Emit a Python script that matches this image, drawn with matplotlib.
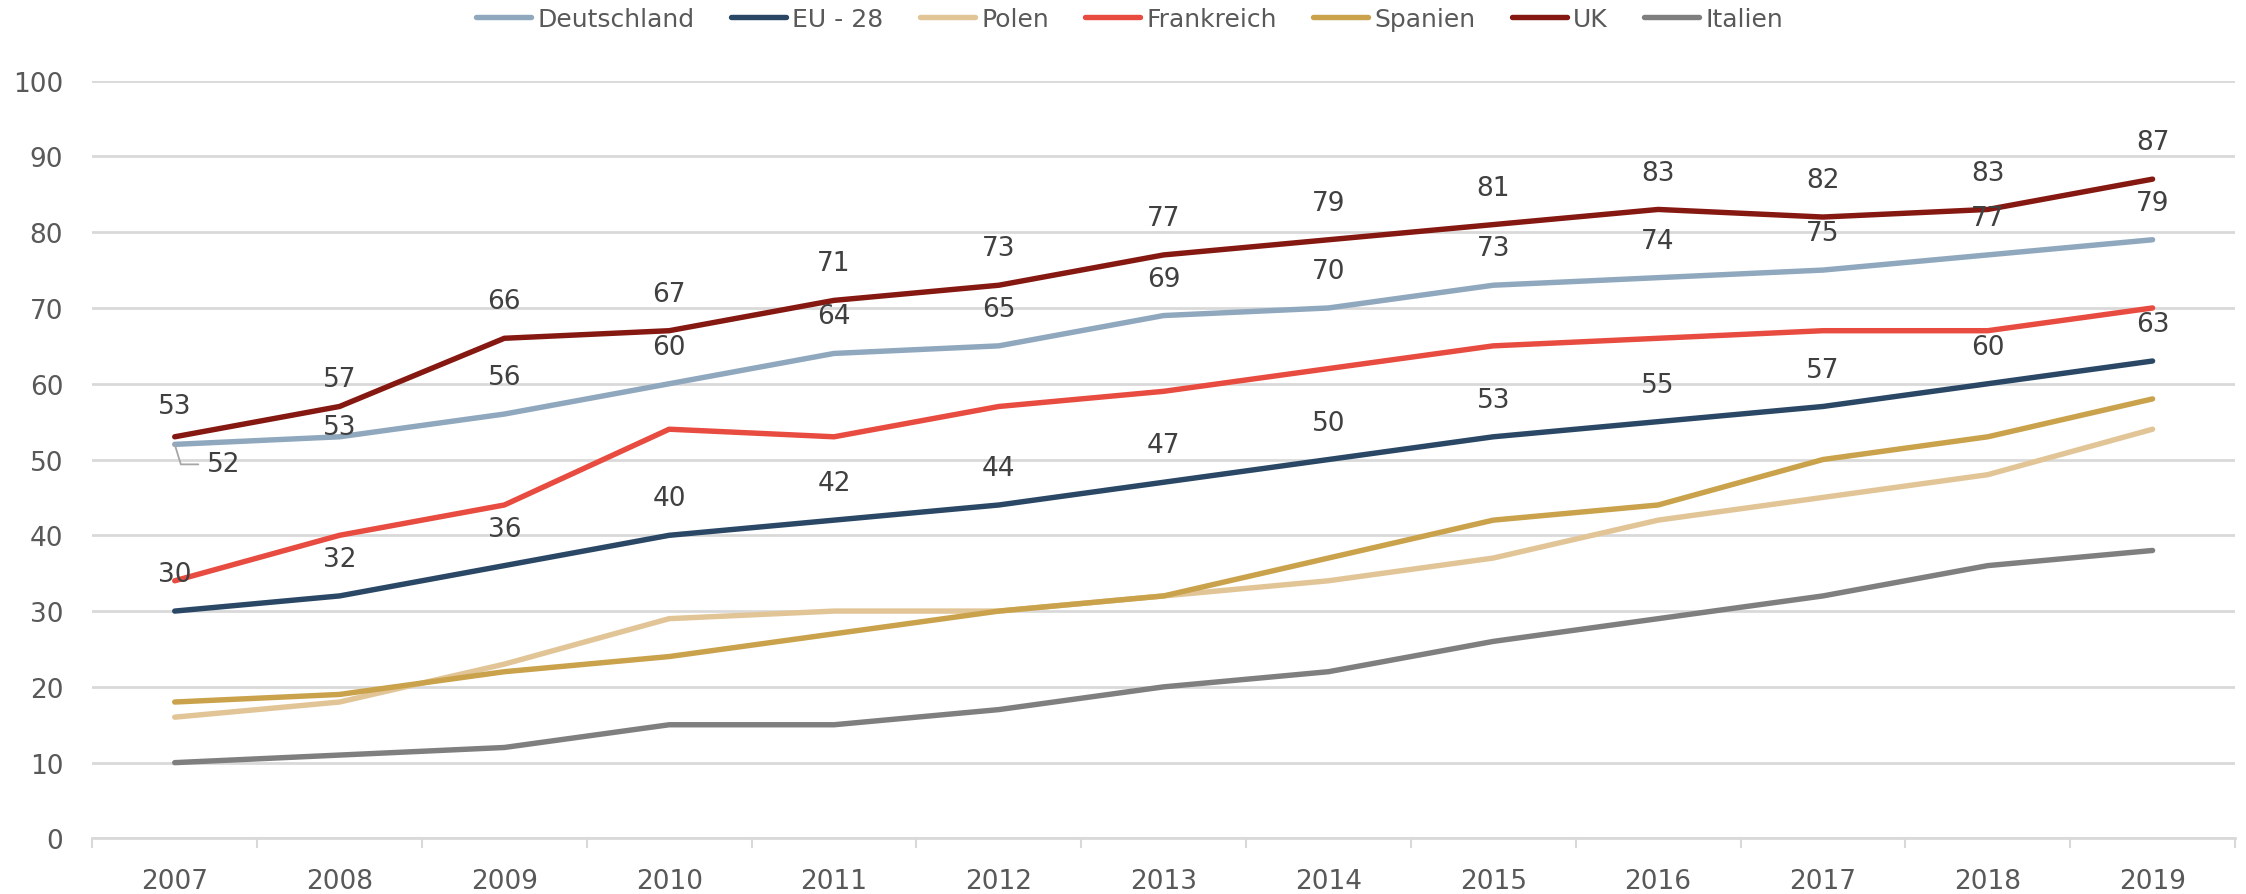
import matplotlib
matplotlib.use("Agg")
import matplotlib.pyplot as plt
import numpy as np

years = [str(y) for y in range(2007, 2020)]

deutschland = [52, 53, 56, 60, 64, 65, 69, 70, 73, 74, 75, 77, 79]
eu28 = [30, 32, 36, 40, 42, 44, 47, 50, 53, 55, 57, 60, 63]
polen = [16, 18, 23, 29, 30, 30, 32, 34, 37, 42, 45, 48, 54]
frankreich = [34, 40, 44, 54, 53, 57, 59, 62, 65, 66, 67, 67, 70]
spanien = [18, 19, 22, 24, 27, 30, 32, 37, 42, 44, 50, 53, 58]
uk = [53, 57, 66, 67, 71, 73, 77, 79, 81, 83, 82, 83, 87]
italien = [10, 11, 12, 15, 15, 17, 20, 22, 26, 29, 32, 36, 38]

series = [
    ("Deutschland", deutschland, "#8FA8BE"),
    ("EU - 28", eu28, "#2A4865"),
    ("Polen", polen, "#E2C597"),
    ("Frankreich", frankreich, "#E84B3F"),
    ("Spanien", spanien, "#C9A24B"),
    ("UK", uk, "#861812"),
    ("Italien", italien, "#7F7F7F"),
]
labelled = {"Deutschland", "EU - 28", "UK"}

GRID = "#D9D9D9"
TICK_TEXT = "#595959"
LABEL_TEXT = "#404040"
FS = 19

fig = plt.figure(figsize=(22.46, 8.95), dpi=100)
ax = fig.add_axes([0.0411, 0.0621, 0.954, 0.8467])

x = np.arange(len(years))
lines = []
for name, values, color in series:
    (line,) = ax.plot(x, values, color=color, lw=3.9, solid_capstyle="round",
                      solid_joinstyle="round", label=name, zorder=3)
    lines.append(line)

# data labels (a few were dragged by hand in the original)
default_offset = 26.6
special = {
    ("UK", 0): (0, 22),
    ("UK", 1): (0, 19.8),
    ("Deutschland", 1): (0, 6.8),
}
for name, values, color in series:
    if name not in labelled:
        continue
    for i, v in enumerate(values):
        if name == "Deutschland" and i == 0:
            ax.annotate(
                str(v), (x[i], v), xytext=(23, -14.4), textcoords="offset points",
                ha="left", va="center", fontsize=FS, color=LABEL_TEXT, zorder=5,
                arrowprops=dict(arrowstyle="-", color="#A6A6A6", lw=1.3,
                                connectionstyle="angle,angleA=0,angleB=-73,rad=0",
                                relpos=(0, 0.5), shrinkA=4, shrinkB=0),
            )
            continue
        off = special.get((name, i), (0, default_offset))
        ax.annotate(str(v), (x[i], v), xytext=off, textcoords="offset points",
                    ha="center", va="center", fontsize=FS, color=LABEL_TEXT, zorder=5)

ax.set_xlim(-0.5, len(years) - 0.5)
ax.set_ylim(0, 100)
ax.set_yticks(range(0, 101, 10))
ax.yaxis.grid(True, color=GRID, lw=2)
ax.set_axisbelow(True)
ax.tick_params(axis="y", length=0, pad=21, labelsize=FS, labelcolor=TICK_TEXT)

ax.set_xticks(x)
ax.set_xticklabels(years)
ax.set_xticks(np.arange(-0.5, len(years), 1.0), minor=True)
ax.tick_params(axis="x", which="major", length=0, pad=21, labelsize=FS, labelcolor=TICK_TEXT)
ax.tick_params(axis="x", which="minor", length=7.2, width=1.5, color=GRID, direction="out")

for side in ("left", "right", "top"):
    ax.spines[side].set_visible(False)
ax.spines["bottom"].set_color(GRID)
ax.spines["bottom"].set_linewidth(2)

fig.legend(handles=lines, loc="center", bbox_to_anchor=(0.503, 0.978), ncol=7,
           frameon=False, fontsize=18, handlelength=2.2, handletextpad=0.25,
           columnspacing=1.45, labelcolor=TICK_TEXT)

fig.savefig("out.png", dpi=100)
